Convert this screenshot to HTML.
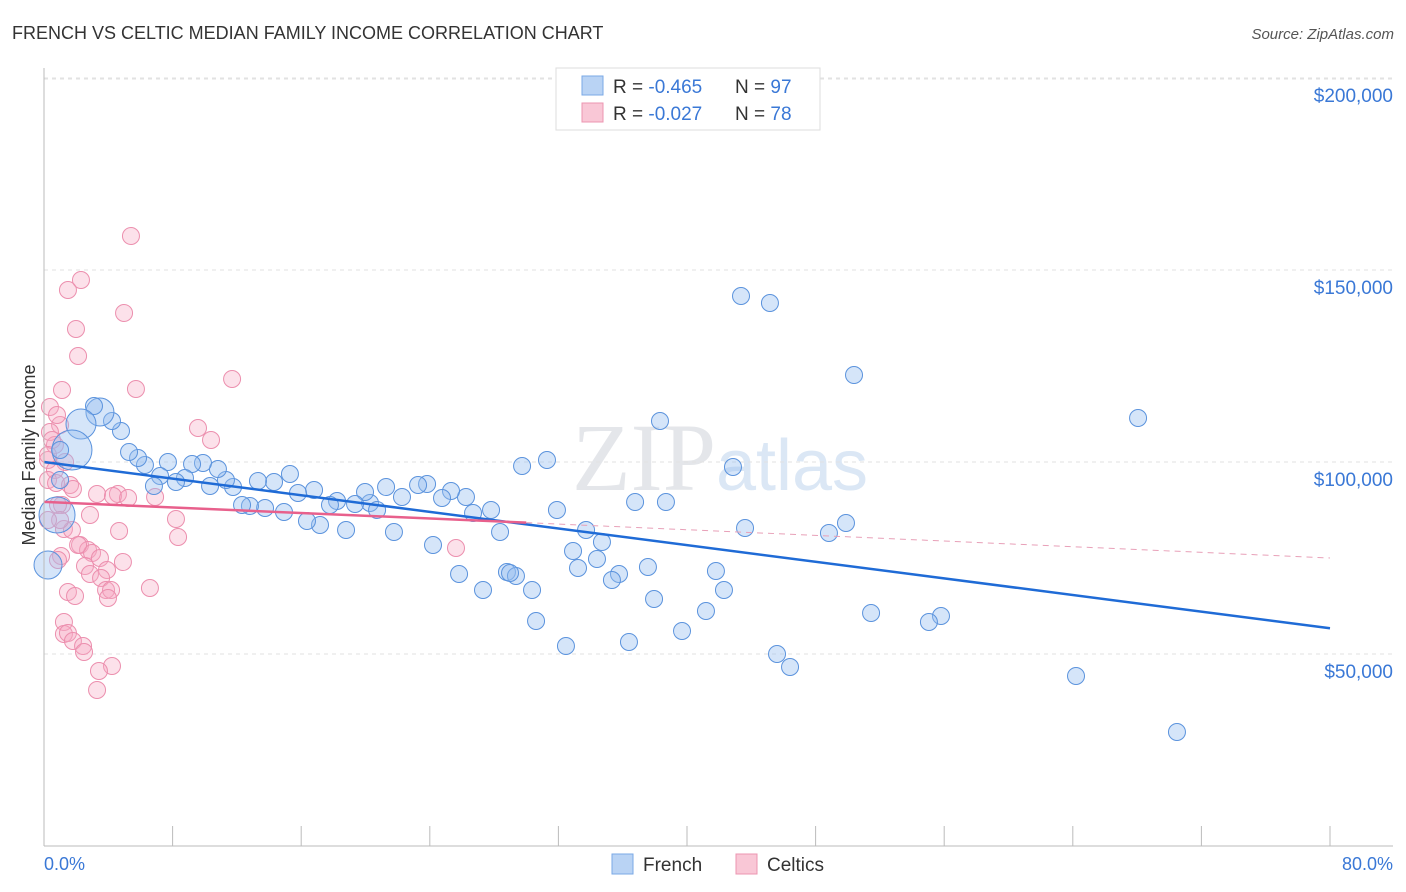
<!DOCTYPE html>
<html><head><meta charset="utf-8"><style>
body{margin:0;background:#fff;font-family:"Liberation Sans",sans-serif;}
svg{display:block}
</style></head><body>
<svg id="c" width="1406" height="892" xmlns="http://www.w3.org/2000/svg">
<text x="12" y="39" font-size="18" fill="#333">FRENCH VS CELTIC MEDIAN FAMILY INCOME CORRELATION CHART</text>
<text x="1394" y="39" font-size="15" fill="#555" font-style="italic" text-anchor="end">Source: ZipAtlas.com</text>
<text x="35" y="455" font-size="18" fill="#333" text-anchor="middle" transform="rotate(-90 35 455)">Median Family Income</text>
<text x="720" y="490" font-size="96" fill="#e4e6ea" text-anchor="middle" font-family="Liberation Serif,serif">ZIP<tspan fill="#dbe7f5" font-family="Liberation Sans,sans-serif" font-size="72">atlas</tspan></text>
<g id="grid"></g><g id="pts"></g><g id="lines"></g>
<line x1="44" y1="68" x2="44" y2="846" stroke="#bbb"/>
<line x1="44" y1="846" x2="1393" y2="846" stroke="#bbb"/>
<text x="44" y="870" font-size="18" fill="#3a78d6">0.0%</text>
<text x="1393" y="870" font-size="18" fill="#3a78d6" text-anchor="end">80.0%</text>
<g>
<rect x="556" y="68" width="264" height="62" fill="#fff" stroke="#ddd"/>
<rect x="582" y="76" width="21" height="19" fill="#b9d3f4" stroke="#7aa8e6"/>
<rect x="582" y="103" width="21" height="19" fill="#f9c7d6" stroke="#ec95b0"/>
<text x="613" y="93" font-size="19" fill="#333">R = <tspan fill="#3a78d6">-0.465</tspan><tspan x="735">N = </tspan><tspan fill="#3a78d6">97</tspan></text>
<text x="613" y="120" font-size="19" fill="#333">R = <tspan fill="#3a78d6">-0.027</tspan><tspan x="735">N = </tspan><tspan fill="#3a78d6">78</tspan></text>
</g>
<g>
<rect x="612" y="854" width="21" height="20" fill="#b9d3f4" stroke="#7aa8e6"/>
<text x="643" y="871" font-size="19" fill="#333">French</text>
<rect x="736" y="854" width="21" height="20" fill="#f9c7d6" stroke="#ec95b0"/>
<text x="767" y="871" font-size="19" fill="#333">Celtics</text>
</g>
</svg>
<script>
const yTicks=[50000,100000,150000,200000];
const yTickLabels=["$50,000","$100,000","$150,000","$200,000"];
const xTicks=[0,8,16,24,32,40,48,56,64,72,80];
const frenchPx=[[741,296],[770,303],[854,375],[1138,418],[660,421],[547,460],[522,466],[733,467],[1076,676],[1177,732],[871,613],[941,616],[929,622],[777,654],[790,667],[682,631],[629,642],[566,646],[536,621],[654,599],[706,611],[724,590],[716,571],[648,567],[619,574],[612,580],[578,568],[597,559],[573,551],[602,542],[586,530],[745,528],[829,533],[846,523],[635,502],[666,502],[557,510],[500,532],[473,513],[491,510],[466,497],[451,491],[442,498],[427,484],[418,485],[402,497],[386,487],[370,503],[377,510],[365,492],[355,504],[337,501],[330,505],[346,530],[320,525],[307,521],[314,490],[298,493],[290,474],[274,482],[258,481],[284,512],[265,508],[250,506],[242,505],[233,487],[226,480],[218,469],[210,486],[203,463],[192,464],[185,478],[176,482],[168,462],[160,476],[154,486],[145,465],[138,458],[129,452],[121,431],[112,421],[100,412],[94,406],[81,424],[72,450],[60,450],[60,480],[57,515],[48,565],[394,532],[433,545],[459,574],[483,590],[507,572],[516,576],[532,590],[510,573]];
const celticPx=[[131,236],[81,280],[68,290],[124,313],[76,329],[78,356],[232,379],[136,389],[62,390],[50,407],[198,428],[211,440],[60,425],[50,432],[55,445],[48,460],[65,462],[55,470],[48,480],[56,483],[70,485],[73,489],[97,494],[118,494],[113,496],[128,498],[155,497],[62,505],[58,505],[90,515],[176,519],[178,537],[64,529],[72,530],[119,531],[80,545],[88,550],[92,553],[100,558],[61,556],[85,566],[123,562],[107,570],[90,574],[101,578],[150,588],[106,590],[111,590],[68,592],[108,598],[75,596],[64,622],[64,634],[68,633],[73,641],[83,646],[84,652],[112,666],[99,671],[97,690],[456,548],[58,560],[60,520],[78,545],[48,520],[52,440],[57,415],[48,455]];
const frenchX=frenchPx.map(p=>+((p[0]-44)/1286*80).toFixed(2));
const frenchY=frenchPx.map(p=>Math.round(100000-(p[1]-462)*50000/192));
const celticX=celticPx.map(p=>+((p[0]-44)/1286*80).toFixed(2));
const celticY=celticPx.map(p=>Math.round(100000-(p[1]-462)*50000/192));
const bigFrench={84:20,87:18,88:14,81:14,83:15};
const frenchTrend=[100000,56700];
const celticTrend=[89600,84200,75000];
const X=v=>44+v/80*1286, Y=v=>462-(v-100000)*192/50000;
const NS="http://www.w3.org/2000/svg";
function mk(t,a,p){const e=document.createElementNS(NS,t);for(const k in a)e.setAttribute(k,a[k]);p.appendChild(e);return e;}
const grid=document.getElementById('grid'),pts=document.getElementById('pts'),lines=document.getElementById('lines');
yTicks.forEach((v,i)=>{
 const l=mk('line',{x1:44,x2:1393,y1:Y(v),y2:Y(v),stroke:'#e2e2e2','stroke-dasharray':'4,4'},grid);
 
 
 const t=mk('text',{x:1393,y:Y(v)+24,'font-size':19,fill:'#3a78d6','text-anchor':'end'},grid);
 t.textContent=yTickLabels[i];
 
 
});
mk('line',{x1:44,x2:1393,y1:79,y2:79,stroke:'#e2e2e2','stroke-dasharray':'4,4'},grid);
xTicks.forEach(v=>{
 const l=mk('line',{x1:X(v),x2:X(v),y1:826,y2:846,stroke:'#bbb'},grid);
 
 
});
celticX.forEach((x,i)=>{
 const c=mk('circle',{cx:X(x),cy:Y(celticY[i]),r:8.5,fill:'rgba(246,170,195,0.35)',stroke:'#ec8fae','stroke-width':1},pts);
 
 
});
frenchX.forEach((x,i)=>{
 const c=mk('circle',{cx:X(x),cy:Y(frenchY[i]),r:bigFrench[i]||8.5,fill:'rgba(150,190,240,0.4)',stroke:'#5b93dd','stroke-width':1},pts);
 
 
});
let l=mk('line',{x1:X(0),y1:Y(frenchTrend[0]),x2:X(80),y2:Y(frenchTrend[1]),stroke:'#1f6bd6','stroke-width':2.5},lines);


l=mk('line',{x1:X(0),y1:Y(celticTrend[0]),x2:X(30),y2:Y(celticTrend[1]),stroke:'#e8608c','stroke-width':2.5},lines);


l=mk('line',{x1:X(30),y1:Y(celticTrend[1]),x2:X(80),y2:Y(celticTrend[2]),stroke:'#e8a0b8','stroke-width':1,'stroke-dasharray':'6,5'},lines);


</script>
</body></html>
